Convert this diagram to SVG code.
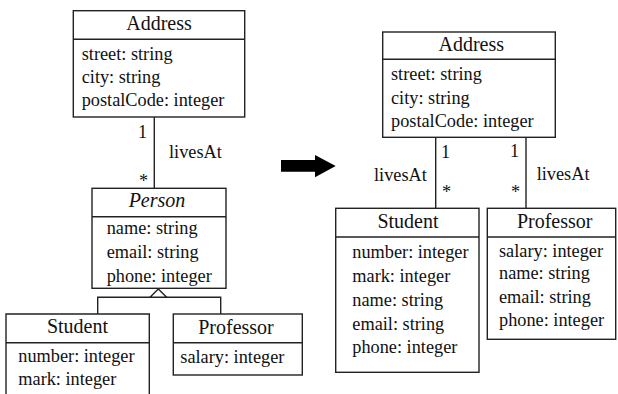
<svg xmlns="http://www.w3.org/2000/svg" width="618" height="394" viewBox="0 0 618 394">
<rect width="618" height="394" fill="#fff"/>
<g id="connectors" fill="none" stroke="#222" stroke-width="1.4">
<line x1="154.3" y1="117" x2="154.3" y2="188.3"/>
<polyline points="97.7,314 97.7,297.3 220.7,297.3 220.7,314"/>
<polygon fill="#fff" points="158.3,289 150,297.3 166.7,297.3"/>
<line x1="435.7" y1="137.3" x2="435.7" y2="208.3"/>
<line x1="526" y1="137.3" x2="526" y2="208.3"/>
</g>
<g id="labels" fill="#111">
<text style="font-family:'Liberation Serif',serif !important" font-size="18.3" x="138" y="138">1</text>
<text style="font-family:'Liberation Serif',serif !important" font-size="18.3" x="139" y="187">*</text>
<text style="font-family:'Liberation Serif',serif !important" font-size="18.3" x="169" y="158">livesAt</text>
<text style="font-family:'Liberation Serif',serif !important" font-size="18.3" x="441" y="158.3">1</text>
<text style="font-family:'Liberation Serif',serif !important" font-size="18.3" x="510" y="156.7">1</text>
<text style="font-family:'Liberation Serif',serif !important" font-size="18.3" x="442" y="198">*</text>
<text style="font-family:'Liberation Serif',serif !important" font-size="18.3" x="511" y="198">*</text>
<text style="font-family:'Liberation Serif',serif !important" font-size="18.3" x="374" y="181">livesAt</text>
<text style="font-family:'Liberation Serif',serif !important" font-size="18.3" x="536.7" y="180">livesAt</text>
</g>
<g id="arrow">
<polygon fill="#000" points="281,160 315,160 315,155 335.7,166 315,177.3 315,171.7 281,171.7"/>
</g>
<g id="address-left">
<rect fill="#fff" stroke="#222" stroke-width="1.4" x="73.3" y="10.7" width="171.4" height="106.3"/>
<line stroke="#222" stroke-width="1.4" x1="73.3" y1="39.3" x2="244.7" y2="39.3"/>
<text style="font-family:'Liberation Serif',serif !important" font-size="20" text-anchor="middle" fill="#111" x="159" y="30">Address</text>
<text style="font-family:'Liberation Serif',serif !important" font-size="18.3" fill="#111" x="81.7" y="59.5">street: string</text>
<text style="font-family:'Liberation Serif',serif !important" font-size="18.3" fill="#111" x="81.7" y="82.5">city: string</text>
<text style="font-family:'Liberation Serif',serif !important" font-size="18.3" fill="#111" x="81.7" y="106">postalCode: integer</text>
</g>
<g id="person">
<rect fill="#fff" stroke="#222" stroke-width="1.4" x="92" y="188.3" width="134" height="100"/>
<line stroke="#222" stroke-width="1.4" x1="92" y1="216.7" x2="226" y2="216.7"/>
<text style="font-family:'Liberation Serif',serif !important" font-size="20" text-anchor="middle" fill="#111" x="157" y="207.3" font-style="italic">Person</text>
<text style="font-family:'Liberation Serif',serif !important" font-size="18.3" fill="#111" x="106.7" y="234.3">name: string</text>
<text style="font-family:'Liberation Serif',serif !important" font-size="18.3" fill="#111" x="106.7" y="258">email: string</text>
<text style="font-family:'Liberation Serif',serif !important" font-size="18.3" fill="#111" x="106.7" y="281.7">phone: integer</text>
</g>
<g id="student-left">
<polyline fill="#fff" stroke="#222" stroke-width="1.4" points="6,400 6,314 149.3,314 149.3,400"/>
<line stroke="#222" stroke-width="1.4" x1="6" y1="342.7" x2="149.3" y2="342.7"/>
<text style="font-family:'Liberation Serif',serif !important" font-size="20" text-anchor="middle" fill="#111" x="77.5" y="333">Student</text>
<text style="font-family:'Liberation Serif',serif !important" font-size="18.3" fill="#111" x="18.3" y="361.7">number: integer</text>
<text style="font-family:'Liberation Serif',serif !important" font-size="18.3" fill="#111" x="18.3" y="385">mark: integer</text>
</g>
<g id="professor-left">
<rect fill="#fff" stroke="#222" stroke-width="1.4" x="173.3" y="314" width="129" height="61"/>
<line stroke="#222" stroke-width="1.4" x1="173.3" y1="342.7" x2="302.3" y2="342.7"/>
<text style="font-family:'Liberation Serif',serif !important" font-size="20" text-anchor="middle" fill="#111" x="236" y="334">Professor</text>
<text style="font-family:'Liberation Serif',serif !important" font-size="18.3" fill="#111" x="180.3" y="362.7">salary: integer</text>
</g>
<g id="address-right">
<rect fill="#fff" stroke="#222" stroke-width="1.4" x="382.7" y="32" width="172.6" height="105.3"/>
<line stroke="#222" stroke-width="1.4" x1="382.7" y1="59.3" x2="555.3" y2="59.3"/>
<text style="font-family:'Liberation Serif',serif !important" font-size="20" text-anchor="middle" fill="#111" x="471.3" y="51">Address</text>
<text style="font-family:'Liberation Serif',serif !important" font-size="18.3" fill="#111" x="391" y="80">street: string</text>
<text style="font-family:'Liberation Serif',serif !important" font-size="18.3" fill="#111" x="391" y="104">city: string</text>
<text style="font-family:'Liberation Serif',serif !important" font-size="18.3" fill="#111" x="391" y="127.3">postalCode: integer</text>
</g>
<g id="student-right">
<rect fill="#fff" stroke="#222" stroke-width="1.4" x="335.7" y="208.3" width="143.3" height="164"/>
<line stroke="#222" stroke-width="1.4" x1="335.7" y1="237" x2="479" y2="237"/>
<text style="font-family:'Liberation Serif',serif !important" font-size="20" text-anchor="middle" fill="#111" x="408" y="228.3">Student</text>
<text style="font-family:'Liberation Serif',serif !important" font-size="18.3" fill="#111" x="352.3" y="258.3">number: integer</text>
<text style="font-family:'Liberation Serif',serif !important" font-size="18.3" fill="#111" x="352.3" y="281.7">mark: integer</text>
<text style="font-family:'Liberation Serif',serif !important" font-size="18.3" fill="#111" x="352.3" y="305.7">name: string</text>
<text style="font-family:'Liberation Serif',serif !important" font-size="18.3" fill="#111" x="352.3" y="330">email: string</text>
<text style="font-family:'Liberation Serif',serif !important" font-size="18.3" fill="#111" x="352.3" y="353.3">phone: integer</text>
</g>
<g id="professor-right">
<rect fill="#fff" stroke="#222" stroke-width="1.4" x="487.3" y="208.3" width="128.4" height="131"/>
<line stroke="#222" stroke-width="1.4" x1="487.3" y1="237" x2="615.7" y2="237"/>
<text style="font-family:'Liberation Serif',serif !important" font-size="20" text-anchor="middle" fill="#111" x="554.7" y="228.3">Professor</text>
<text style="font-family:'Liberation Serif',serif !important" font-size="18.3" fill="#111" x="499" y="256.7">salary: integer</text>
<text style="font-family:'Liberation Serif',serif !important" font-size="18.3" fill="#111" x="499" y="279.3">name: string</text>
<text style="font-family:'Liberation Serif',serif !important" font-size="18.3" fill="#111" x="499" y="302.7">email: string</text>
<text style="font-family:'Liberation Serif',serif !important" font-size="18.3" fill="#111" x="499" y="326">phone: integer</text>
</g>
</svg>
